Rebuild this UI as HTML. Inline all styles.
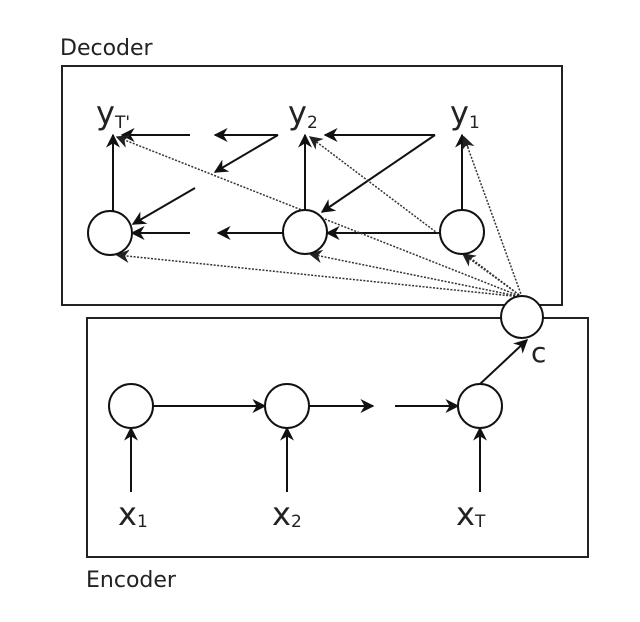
<!DOCTYPE html>
<html><head><meta charset="utf-8"><style>body{margin:0;background:#fff}svg{display:block}</style></head><body>
<svg width="640" height="622" viewBox="0 0 640 622" xmlns="http://www.w3.org/2000/svg" font-family="DejaVu Sans, Liberation Sans, sans-serif">
<defs>
<marker id="a" viewBox="0 0 10 10" refX="9" refY="5" markerWidth="7" markerHeight="7" orient="auto"><path d="M0,0 L10,5 L0,10 L3,5z" fill="#111"/></marker>
<marker id="b" viewBox="0 0 10 10" refX="9" refY="5" markerWidth="9" markerHeight="9" orient="auto"><path d="M0,0 L10,5 L0,10 L3,5z" fill="#222"/></marker>
</defs>
<rect x="62" y="66" width="500" height="239" fill="none" stroke="#222" stroke-width="2"/>
<rect x="87" y="318" width="501" height="239" fill="none" stroke="#222" stroke-width="2"/>
<text x="60" y="55" font-size="22" fill="#222">Decoder</text>
<text x="86" y="587" font-size="22" fill="#222">Encoder</text>
<g stroke="#111" stroke-width="2" fill="none" marker-end="url(#a)">
<line x1="190" y1="135" x2="122" y2="135"/>
<line x1="278" y1="135" x2="215" y2="135"/>
<line x1="278" y1="135" x2="215" y2="172"/>
<line x1="195" y1="188" x2="133" y2="224"/>
<line x1="435" y1="135" x2="325" y2="135"/>
<line x1="435" y1="135" x2="322" y2="212"/>
<line x1="190" y1="233" x2="132" y2="233"/>
<line x1="283" y1="233" x2="218" y2="233"/>
<line x1="440" y1="233" x2="327" y2="233"/>
<line x1="113" y1="211" x2="113" y2="135"/>
<line x1="305" y1="210" x2="305" y2="135"/>
<line x1="462" y1="210" x2="462" y2="135"/>
<line x1="153" y1="406" x2="265" y2="406"/>
<line x1="309" y1="406" x2="373" y2="406"/>
<line x1="395" y1="406" x2="458" y2="406"/>
<line x1="131" y1="492" x2="131" y2="428"/>
<line x1="287" y1="492" x2="287" y2="428"/>
<line x1="480" y1="492" x2="480" y2="428"/>
<line x1="480" y1="384" x2="527" y2="340"/>
</g>
<g stroke="#333" stroke-width="1.5" stroke-dasharray="2,1.5" fill="none" marker-end="url(#b)">
<line x1="522" y1="297" x2="117" y2="137"/>
<line x1="522" y1="297" x2="310" y2="137"/>
<line x1="522" y1="297" x2="464" y2="137"/>
<line x1="522" y1="297" x2="117" y2="255"/>
<line x1="522" y1="297" x2="310" y2="254"/>
<line x1="522" y1="297" x2="463" y2="254"/>
</g>
<g stroke="#111" stroke-width="2" fill="#fff">
<circle cx="110" cy="233" r="22"/>
<circle cx="305" cy="232" r="22"/>
<circle cx="462" cy="232" r="22"/>
<circle cx="131" cy="406" r="22"/>
<circle cx="287" cy="406" r="22"/>
<circle cx="480" cy="406" r="22"/>
<circle cx="522" cy="317" r="21"/>
</g>
<g fill="#222">
<text x="96" y="124" font-size="32">y<tspan font-size="17" dy="4">T'</tspan></text>
<text x="288" y="124" font-size="32">y<tspan font-size="17" dy="4">2</tspan></text>
<text x="450" y="124" font-size="32">y<tspan font-size="17" dy="4">1</tspan></text>
<text x="118" y="525" font-size="32">x<tspan font-size="17" dy="2">1</tspan></text>
<text x="272" y="525" font-size="32">x<tspan font-size="17" dy="2">2</tspan></text>
<text x="456" y="525" font-size="32">x<tspan font-size="17" dy="2">T</tspan></text>
<text x="531" y="362" font-size="28">c</text>
</g>
</svg>
</body></html>
